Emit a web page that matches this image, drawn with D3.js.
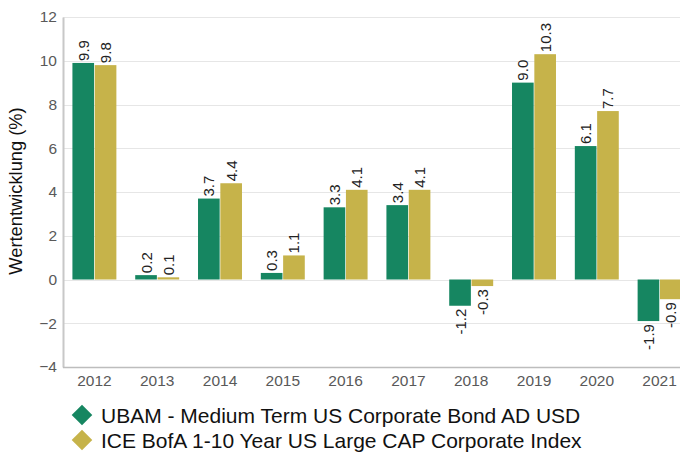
<!DOCTYPE html>
<html lang="de">
<head>
<meta charset="utf-8">
<title>Wertentwicklung</title>
<script src="https://cdnjs.cloudflare.com/ajax/libs/d3/7.8.5/d3.min.js"></script>
<style>
	body { margin: 0; background: #fff; }
	svg { display: block; font-family: "Liberation Sans", Arial, sans-serif; }
	.grid line { stroke: #e6e6e6; stroke-width: 1px; shape-rendering: crispEdges; }
	.axis text { fill: #595959; font-size: 15.5px; }
	.bar-label { font-size: 15px; fill: #222; }
	.legend text { font-size: 21px; fill: #111; }
</style>
</head>
<body>
<div id="chart"></div>
<script>
var years = ["2012","2013","2014","2015","2016","2017","2018","2019","2020","2021"];
var fundValues = [9.9, 0.2, 3.7, 0.3, 3.3, 3.4, -1.2, 9.0, 6.1, -1.9];
var indexValues = [9.8, 0.1, 4.4, 1.1, 4.1, 4.1, -0.3, 10.3, 7.7, -0.9];
var seriesNames = ["UBAM - Medium Term US Corporate Bond AD USD", "ICE BofA 1-10 Year US Large CAP Corporate Index"];
var seriesColors = ["#168661", "#c6b34a"];
var yTicks = [-4, -2, 0, 2, 4, 6, 8, 10, 12];

var W = 680, H = 453;
var mLeft = 63, mTop = 17, plotBottom = 367;

var svg = d3.select("#chart").append("svg")
	.attr("width", W).attr("height", H);

var x = d3.scaleBand().domain(years).range([mLeft, mLeft + 628]).paddingInner(0.3).paddingOuter(0.15);
var x1 = d3.scaleBand().domain([0, 1]).range([0, x.bandwidth()]).paddingInner(0.03);
var y = d3.scaleLinear().domain([-4, 12]).range([plotBottom, mTop]);

// grid
svg.append("g").attr("class", "grid")
	.selectAll("line").data(yTicks.filter(function(d){ return d > -4; }))
	.enter().append("line")
	.attr("x1", mLeft).attr("x2", W)
	.attr("y1", function(d){ return Math.round(y(d)) + 0.5; })
	.attr("y2", function(d){ return Math.round(y(d)) + 0.5; });

// axes
var yAxis = svg.append("g").attr("class", "axis")
	.attr("transform", "translate(" + mLeft + ",0)")
	.call(d3.axisLeft(y).tickValues(yTicks).tickSize(0).tickPadding(6));
yAxis.select(".domain").attr("stroke", "#c8c8c8").attr("stroke-width", 2);

var xAxis = svg.append("g").attr("class", "axis")
	.attr("transform", "translate(0," + plotBottom + ")")
	.call(d3.axisBottom(x).tickSize(0).tickPadding(8));
xAxis.select(".domain").remove();
svg.append("line").attr("x1", mLeft).attr("x2", W)
	.attr("y1", plotBottom + 0.5).attr("y2", plotBottom + 0.5)
	.attr("stroke", "#bdbdbd").attr("stroke-width", 1.5);

// bars
var rows = years.map(function(yr, i){
	return { year: yr, vals: [fundValues[i], indexValues[i]] };
});
var groups = svg.selectAll(".grp").data(rows).enter().append("g")
	.attr("class", "grp")
	.attr("transform", function(d){ return "translate(" + x(d.year) + ",0)"; });

groups.selectAll("rect").data(function(d){ return d.vals; }).enter().append("rect")
	.attr("x", function(d, i){ return x1(i); })
	.attr("width", x1.bandwidth())
	.attr("y", function(d){ return y(Math.max(0, d)); })
	.attr("height", function(d){ return Math.abs(y(d) - y(0)); })
	.attr("fill", function(d, i){ return seriesColors[i]; });

groups.selectAll("text").data(function(d){ return d.vals; }).enter().append("text")
	.attr("class", "bar-label")
	.attr("transform", function(d, i){
		var cx = x1(i) + x1.bandwidth() / 2 + 5.5;
		var cy = d >= 0 ? y(d) - 2 : y(d) + 3;
		return "translate(" + cx + "," + cy + ") rotate(-90)";
	})
	.attr("text-anchor", function(d){ return d >= 0 ? "start" : "end"; })
	.text(function(d){ return d.toFixed(1); });

// y title
svg.append("text")
	.attr("transform", "translate(22,191) rotate(-90)")
	.attr("text-anchor", "middle")
	.attr("font-size", 18.3)
	.attr("fill", "#111")
	.text("Wertentwicklung (%)");

// legend
var legend = svg.append("g").attr("class", "legend");
seriesNames.forEach(function(name, i){
	var ly = 415 + i * 25;
	legend.append("path")
		.attr("d", d3.symbol().type(d3.symbolDiamond2).size(270)())
		.attr("transform", "translate(82," + ly + ")")
		.attr("fill", seriesColors[i]);
	legend.append("text").attr("x", 101).attr("y", ly + 7.5).text(name);
});
</script>
</body>
</html>
